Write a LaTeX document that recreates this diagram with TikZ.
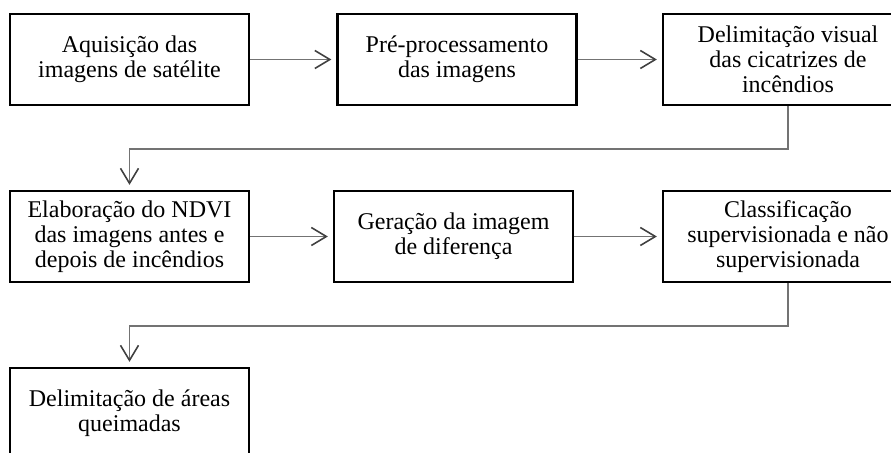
\documentclass[tikz,border=0pt]{standalone}
\usepackage{fontspec}
\setmainfont{Liberation Serif}
\usetikzlibrary{arrows.meta}
\begin{document}
\begin{tikzpicture}[x=0.5pt,y=-0.5pt,
  box/.style={draw=black, line width=1.1pt, minimum width=119.5pt, minimum height=45.5pt,
    align=center, inner sep=0pt, font=\fontsize{12}{12.6}\selectfont},
  widebox/.style={box, minimum width=125pt},
  conn/.style={draw=black!55, line width=0.9pt, shorten >=2.5pt,
    -{Straight Barb[length=7.5pt,width=9pt,line width=0.8pt,color=black!75]}}
]
\useasboundingbox (0,0) rectangle (891,453);
\clip (0,0) rectangle (891,453);
\node[box] (b1) at (129.5,59.5) {Aquisição das\\imagens de satélite};
\node[box] (b2) at (457,59.5) {Pré-processamento\\das imagens};
\node[widebox] (b3) at (788,59.5) {Delimitação visual\\das cicatrizes de\\incêndios};
\node[box] (b4) at (129.5,236.5) {Elaboração do NDVI\\das imagens antes e\\depois de incêndios};
\node[box] (b5) at (453.5,236.5) {Geração da imagem\\de diferença};
\node[widebox] (b6) at (788,236.5) {Classificação\\supervisionada e não\\supervisionada};
\node[box] (b7) at (129.5,413.5) {Delimitação de áreas\\queimadas};
\draw[conn] (b1.east) -- (b2.west);
\draw[conn] (b2.east) -- (b3.west);
\draw[conn] (b3.south) -- ++(0,43) -| (b4.north);
\draw[conn] (b4.east) -- (b5.west);
\draw[conn] (b5.east) -- (b6.west);
\draw[conn] (b6.south) -- ++(0,43) -| (b7.north);
\end{tikzpicture}
\end{document}
